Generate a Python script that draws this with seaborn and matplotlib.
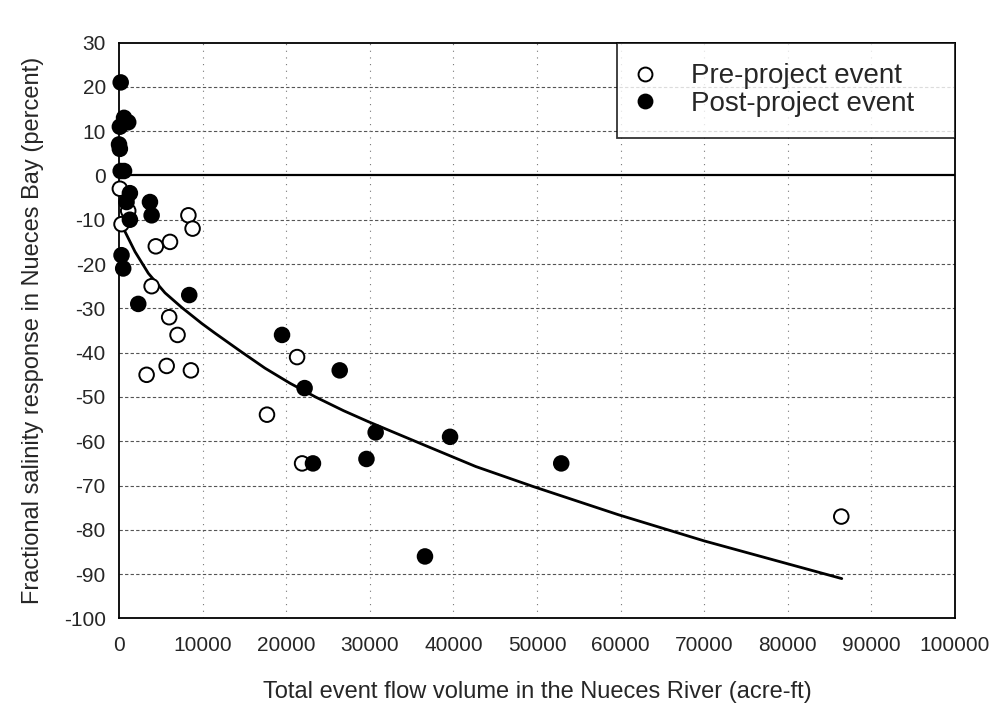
import numpy as np
import pandas as pd
import matplotlib
matplotlib.use("Agg")
import matplotlib.pyplot as plt
from matplotlib.lines import Line2D
import seaborn as sns

sns.set_style('white')
plt.rcParams['font.family'] = ['Liberation Sans', 'DejaVu Sans']
plt.rcParams['axes.unicode_minus'] = False

# pre-project events (open circles)
pre_flow = [100, 1100, 300, 8300, 8800, 6100, 4400, 3900, 6000, 7000,
            21300, 3300, 5700, 8600, 17700, 21900, 86400]
pre_resp = [-3, -8, -11, -9, -12, -15, -16, -25, -32, -36,
            -41, -45, -43, -44, -54, -65, -77]

# post-project events (filled circles)
post_flow = [200, 100, 600, 1100, 0, 100, 200, 600, 1300, 900, 3700, 3900, 1300,
             300, 500, 8400, 2300, 19500, 26400, 22200, 30700, 29600, 23200,
             39600, 52900, 36600]
post_resp = [21, 11, 13, 12, 7, 6, 1, 1, -4, -6, -6, -9, -10,
             -18, -21, -27, -29, -36, -44, -48, -58, -64, -65,
             -59, -65, -86]

# fitted curve
curve_flow = [510, 720, 1910, 3510, 5500, 7500, 9890, 11480, 14470, 17460, 20450,
              23500, 26860, 29850, 36690, 42670, 49510, 59760, 70010, 80260, 86460]
curve_resp = [-11.9, -12.7, -17.2, -22.1, -26.5, -29.8, -33.4, -35.6, -39.6, -43.5, -46.9,
              -50.0, -53.1, -55.6, -61.0, -65.7, -70.2, -76.6, -82.5, -87.8, -91.0]

x_ticks = list(range(0, 100001, 10000))
y_ticks = list(range(-100, 31, 10))

df = pd.DataFrame({
    'flow': pre_flow + post_flow,
    'resp': pre_resp + post_resp,
    'event': ['Pre-project event'] * len(pre_flow) + ['Post-project event'] * len(post_flow),
})

fig = plt.figure(figsize=(9.96, 7.09), dpi=100)
ax = fig.add_axes([0.1195, 0.1277, 0.8393, 0.8123])

# grid
for v in y_ticks[1:-1]:
    if v == 0:
        ax.axhline(0, color='black', lw=1.6, zorder=1)
    else:
        ax.axhline(v, color='#555555', lw=0.8, ls=(0, (3, 2)), zorder=0)
for v in x_ticks[1:-1]:
    ax.axvline(v, color='#777777', lw=0.8, ls=(0, (1, 5)), zorder=0)

ax.plot(curve_flow, curve_resp, color='black', lw=2, zorder=2)

sns.scatterplot(data=df, x='flow', y='resp', hue='event',
                palette={'Pre-project event': 'white', 'Post-project event': 'black'},
                edgecolor='black', linewidth=1.4, s=110, ax=ax, zorder=3,
                clip_on=False, legend=False)

ax.set_xlim(0, 100000)
ax.set_ylim(-100, 30)
ax.set_xticks(x_ticks)
ax.set_yticks(y_ticks)
ax.tick_params(direction='inout', length=7, width=1.2, labelsize=15, color='black')
ax.tick_params(axis='x', pad=9)
ax.tick_params(axis='y', pad=6)
for s in ax.spines.values():
    s.set_color('black')
    s.set_linewidth(1.3)

ax.set_xlabel('Total event flow volume in the Nueces River (acre-ft)', fontsize=17, labelpad=19)
ax.set_ylabel('Fractional salinity response in Nueces Bay (percent)', fontsize=17, labelpad=14)

# legend
handles = [Line2D([], [], ls='none', marker='o', ms=10, mfc='white', mec='black', mew=1.4),
           Line2D([], [], ls='none', marker='o', ms=10, mfc='black', mec='black', mew=1.4)]
leg = ax.legend(handles, ['Pre-project event', 'Post-project event'],
                loc='upper left', bbox_to_anchor=(0.5957, 0, 0.4043, 1.0), mode='expand',
                borderaxespad=0, fancybox=False, fontsize=20, borderpad=0.75,
                labelspacing=0.05, handlelength=0.5, handletextpad=1.4)
leg.get_frame().set_edgecolor('black')
leg.get_frame().set_linewidth(1.3)
leg.set_zorder(5)

plt.savefig('out.png', dpi=100)
